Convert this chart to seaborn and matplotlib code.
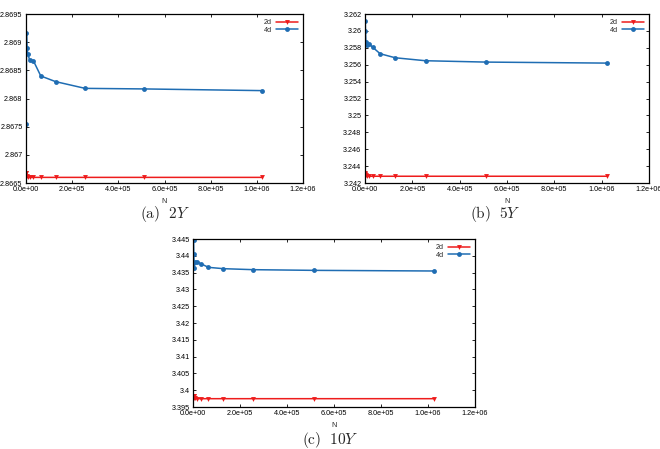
import numpy as np
import pandas as pd
import matplotlib
matplotlib.use("Agg")
import matplotlib.pyplot as plt
import matplotlib.ticker as mticker
import seaborn as sns

N = [1000, 2000, 4000, 8000, 16000, 32000, 64000, 128000, 256000, 512000, 1024000]

y2_2d = [2.86668, 2.86667, 2.86663, 2.86661, 2.86660, 2.86660, 2.86660, 2.86660, 2.86660, 2.86660, 2.86660]
y2_4d = [2.86755, 2.86916, 2.86890, 2.86879, 2.86868, 2.86867, 2.86840, 2.86830, 2.86818, 2.86817, 2.86814]

y5_2d = [3.24320, 3.24310, 3.24300, 3.24285, 3.24280, 3.24280, 3.24280, 3.24280, 3.24280, 3.24280, 3.24280]
y5_4d = [3.26121, 3.25998, 3.25864, 3.25832, 3.25848, 3.25808, 3.25730, 3.25682, 3.25647, 3.25631, 3.25619]

y10_2d = [3.39837, 3.39820, 3.39780, 3.39755, 3.39750, 3.39748, 3.39748, 3.39748, 3.39748, 3.39748, 3.39748]
y10_4d = [3.44480, 3.44040, 3.43630, 3.43825, 3.43810, 3.43766, 3.43657, 3.43617, 3.43587, 3.43567, 3.43548]

series_names = ["2d", "4d"]
captions = [r"$\mathrm{(a)}\ \ 2Y$", r"$\mathrm{(b)}\ \ 5Y$", r"$\mathrm{(c)}\ \ 10Y$"]
ylims = [(2.8665, 2.8695, 0.0005), (3.242, 3.262, 0.002), (3.395, 3.445, 0.005)]
xticks = [0, 2e5, 4e5, 6e5, 8e5, 1e6, 1.2e6]

sns.set_theme(style="white")
plt.rcParams["font.family"] = ["Liberation Sans", "DejaVu Sans"]
plt.rcParams["mathtext.fontset"] = "cm"

fig = plt.figure(figsize=(6.6, 4.49), dpi=100)
positions = [
    [0.0394, 0.5924, 0.4197, 0.3764],
    [0.5530, 0.5924, 0.4303, 0.3764],
    [0.2929, 0.0935, 0.4268, 0.3742],
]
cap_pos = [(0.25, 1 - 214 / 449), (0.75, 1 - 214 / 449), (0.5, 1 - 440 / 449)]
datasets = [(y2_2d, y2_4d), (y5_2d, y5_4d), (y10_2d, y10_4d)]
palette = {"2d": "#ee1c1c", "4d": "#1f6db3"}

for pos, (a2, a4), (lo, hi, st), cap, cp in zip(positions, datasets, ylims, captions, cap_pos):
    ax = fig.add_axes(pos)
    df = pd.DataFrame({
        "N": N + N,
        "value": list(a2) + list(a4),
        "series": [series_names[0]] * len(N) + [series_names[1]] * len(N),
    })
    sns.lineplot(data=df, x="N", y="value", hue="series", style="series",
                 markers={"2d": "v", "4d": "o"}, dashes=False, palette=palette,
                 markersize=3.5, markeredgewidth=0, linewidth=1.1, ax=ax,
                 sort=False)
    ax.set_xlim(0, 1.2e6)
    ax.set_ylim(lo, hi)
    ax.set_xticks(xticks)
    ax.set_yticks(np.arange(lo, hi + st / 2, st))
    ax.xaxis.set_major_formatter(mticker.FuncFormatter(lambda v, p: f"{v:.1e}"))
    ax.yaxis.set_major_formatter(mticker.FuncFormatter(lambda v, p: f"{round(v, 5):g}"))
    ax.tick_params(direction="in", length=2.5, width=0.6, labelsize=5.2, pad=2.5,
                   top=True, right=True, bottom=True, left=True, colors="black")
    ax.set_xlabel("N", fontsize=5.2, labelpad=3)
    ax.set_ylabel("")
    for s in ax.spines.values():
        s.set_linewidth(0.9)
        s.set_color("black")
    ax.grid(False)
    ax.legend(loc="upper right", fontsize=5.2, frameon=False, markerfirst=False,
              handlelength=3.0, handletextpad=0.6, labelspacing=0.1,
              borderaxespad=0.3, title=None)
    fig.text(cp[0], cp[1], cap, ha="center", va="center", fontsize=11)

fig.savefig("out.png", dpi=100)
